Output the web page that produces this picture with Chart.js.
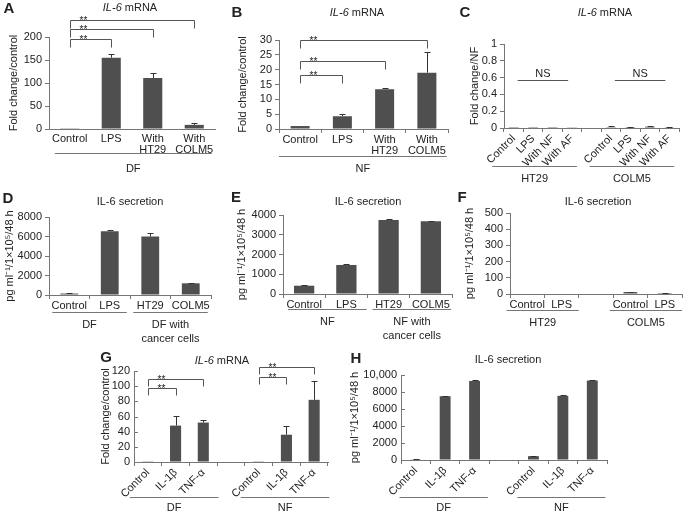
<!DOCTYPE html>
<html><head><meta charset="utf-8">
<script src="https://cdn.jsdelivr.net/npm/chart.js@4"></script>
<style>
html,body{margin:0;padding:0;background:#fff;}
#wrap{position:relative;width:685px;height:513px;background:#fff;}
#wrap canvas{position:absolute;left:0;top:0;}
</style></head><body><div id="wrap"></div>
<script>
// ---------------- DATA ----------------
const catsA = ['Control','LPS',['With','HT29'],['With','COLM5']];
const valsA = [0.5,155,111,9];
const errsA = [0,8,11,3];
const ticksA = ['0','50','100','150','200'];
const groupsA = [['DF',0,3]];
const sigA = [[0,3,237,'**'],[0,2,217,'**'],[0,1,196,'**']];

const catsB = ['Control','LPS',['With','HT29'],['With','COLM5']];
const valsB = [1,4.3,13.4,19];
const errsB = [0,0.6,0.4,7];
const ticksB = ['0','5','10','15','20','25','30'];
const groupsB = [['NF',0,3]];
const sigB = [[0,3,30,'**'],[0,2,22.9,'**'],[0,1,18.2,'**']];

const catsC = ['Control','LPS','With NF','With AF','','Control','LPS','With NF','With AF'];
const valsC = [0.001,0.001,0.001,0.003,null,0.01,0.01,0.015,0.008];
const errsC = [0,0,0,0,0,0.01,0.005,0.005,0.003];
const ticksC = ['0','0.2','0.4','0.6','0.8','1'];
const groupsC = [['HT29',0,3],['COLM5',5,8]];
const sigC = [[0,3,0.57,'NS'],[5,8,0.57,'NS']];

const catsD = ['Control','LPS','HT29','COLM5'];
const valsD = [150,6550,6000,1200];
const errsD = [100,80,400,60];
const ticksD = ['0','2000','4000','6000','8000'];
const groupsD = [['DF',0,1],[['DF with','cancer cells'],2,3]];

const catsE = ['Control','LPS','HT29','COLM5'];
const valsE = [420,1470,3750,3680];
const errsE = [30,30,30,25];
const ticksE = ['0','1000','2000','3000','4000'];
const groupsE = [['NF',0,1],[['NF with','cancer cells'],2,3]];

const catsF = ['Control','LPS','','Control','LPS'];
const valsF = [0,0,null,12,6];
const errsF = [0,0,0,3,2];
const ticksF = ['0','100','200','300','400','500'];
const groupsF = [['HT29',0,1],['COLM5',3,4]];

const catsG = ['Control','IL-1β','TNF-α','','Control','IL-1β','TNF-α'];
const valsG = [1,48,52,null,1,36,82];
const errsG = [0,13,4,0,0,12,25];
const ticksG = ['0','20','40','60','80','100','120'];
const groupsG = [['DF',0,2],['NF',4,6]];
const sigG = [[0,2,109,'**'],[0,1,97,'**'],[4,6,125,'**'],[4,5,112,'**']];

const catsH = ['Control','IL-1β','TNF-α','','Control','IL-1β','TNF-α'];
const valsH = [80,7500,9300,null,450,7550,9350];
const errsH = [20,40,60,0,20,40,50];
const ticksH = ['0','2000','4000','6000','8000','10,000'];
const groupsH = [['DF',0,2],['NF',4,6]];

const titleMRNA = ['IL-6',' mRNA'];
const titleSec = 'IL-6 secretion';
const yTitleFold = 'Fold change/control';
const yTitleNF = 'Fold change/NF';
const yTitleSec = 'pg ml\u207B\u00B9/1\u00D710\u2075/48 h';

// ---------------- LAYOUT / STYLE ----------------
const PANELS = [
 {letter:'A',lx:9,ly:9,title:titleMRNA,tx:130,ty:8,rect:[49,37,215,129],cats:catsA,vals:valsA,errs:errsA,yMax:200,step:50,ticks:ticksA,bar:0.46,xTicks:false,yIn:false,rot:0,xPad:4,groups:groupsA,gExt:[0.36,0.42],gOff:24,gLab:15,sig:sigA,drop:8,yTitle:yTitleFold,ytOff:35},
 {letter:'B',lx:237,ly:13,title:titleMRNA,tx:357,ty:13,rect:[279,40,448,129],cats:catsB,vals:valsB,errs:errsB,yMax:30,step:5,ticks:ticksB,bar:0.45,xTicks:true,yIn:false,rot:0,xPad:1,groups:groupsB,gExt:[0.5,0.47],gOff:27,gLab:12,sig:sigB,drop:8,yTitle:yTitleFold,ytOff:36},
 {letter:'C',lx:465,ly:13,title:titleMRNA,tx:605,ty:13,rect:[504,44,679,128],cats:catsC,vals:valsC,errs:errsC,yMax:1,step:0.2,ticks:ticksC,bar:0.5,xTicks:true,yIn:false,rot:45,xPad:1,groups:groupsC,gExt:[1.1,0.25],gOff:38,gLab:12,sig:sigC,drop:0,yTitle:yTitleNF,ytOff:29},
 {letter:'D',lx:8,ly:199,title:titleSec,tx:130,ty:202,rect:[49,217,211,295],cats:catsD,vals:valsD,errs:errsD,yMax:8000,step:2000,ticks:ticksD,bar:0.44,xTicks:true,yIn:false,rot:0,xPad:1,groups:groupsD,gExt:[0.42,0.42],gOff:17,gLab:12,sig:[],drop:0,yTitle:yTitleSec,ytOff:39},
 {letter:'E',lx:236,ly:198,title:titleSec,tx:368,ty:202,rect:[283,215,452,294],cats:catsE,vals:valsE,errs:errsE,yMax:4000,step:1000,ticks:ticksE,bar:0.48,xTicks:true,yIn:false,rot:0,xPad:1,groups:groupsE,gExt:[0.38,0.48],gOff:15,gLab:12,sig:[],drop:0,yTitle:yTitleSec,ytOff:41},
 {letter:'F',lx:462,ly:198,title:titleSec,tx:598,ty:202,rect:[510,213,682,294],cats:catsF,vals:valsF,errs:errsF,yMax:500,step:100,ticks:ticksF,bar:0.4,xTicks:true,yIn:false,rot:0,xPad:1,groups:groupsF,gExt:[0.6,0.5],gOff:16,gLab:12,sig:[],drop:0,yTitle:yTitleSec,ytOff:40},
 {letter:'G',lx:106,ly:358,title:titleMRNA,tx:222,ty:361,rect:[134,371,328,462],cats:catsG,vals:valsG,errs:errsG,yMax:120,step:20,ticks:ticksG,bar:0.4,xTicks:true,yIn:true,rot:45,xPad:1,groups:groupsG,gExt:[0.65,0.55],gOff:35,gLab:10,sig:sigG,drop:7,yTitle:yTitleFold,ytOff:28},
 {letter:'H',lx:356,ly:359,title:titleSec,tx:508,ty:360,rect:[401,375,607,460],cats:catsH,vals:valsH,errs:errsH,yMax:10000,step:2000,ticks:ticksH,bar:0.37,xTicks:true,yIn:true,rot:45,xPad:1,groups:groupsH,gExt:[0.55,0.45],gOff:37,gLab:10,sig:[],drop:0,yTitle:yTitleSec,ytOff:46}
];

const FONT = 'Arial, "Liberation Sans", Helvetica, sans-serif';
const AX = '#767676', BAR = '#4f4f4f', TXT = '#222';
Chart.defaults.font.family = FONT;
Chart.defaults.font.size = 11;
Chart.defaults.color = TXT;

const annot = {
  id:'annot',
  afterDraw(chart, args, opts) {
    const p = PANELS[opts.idx];
    const ctx = chart.ctx, xs = chart.scales.x, ys = chart.scales.y, ca = chart.chartArea;
    const x0 = xs.getPixelForValue(0), cw = xs.getPixelForValue(1) - x0;
    const px = i => x0 + i * cw;
    ctx.save();
    ctx.lineWidth = 1;
    // inward y ticks
    if (p.yIn) {
      ctx.strokeStyle = AX;
      ys.ticks.forEach(t => {
        const y = Math.round(ys.getPixelForValue(t.value)) + 0.5;
        ctx.beginPath(); ctx.moveTo(ca.left, y); ctx.lineTo(ca.left + 4, y); ctx.stroke();
      });
    }
    // error bars
    const meta = chart.getDatasetMeta(0);
    ctx.strokeStyle = '#333';
    p.vals.forEach((v, i) => {
      const e = p.errs[i];
      if (v == null || !e) return;
      const x = Math.round(meta.data[i].x) + 0.5;
      const yb = ys.getPixelForValue(v), yt = Math.round(ys.getPixelForValue(v + e)) + 0.5;
      ctx.beginPath();
      ctx.moveTo(x, yb); ctx.lineTo(x, yt);
      ctx.moveTo(x - 3, yt); ctx.lineTo(x + 3, yt);
      ctx.stroke();
    });
    // significance marks
    ctx.strokeStyle = '#555';
    p.sig.forEach(s => {
      const [a, b, v, lab] = s;
      const y = Math.round(ys.getPixelForValue(v)) + 0.5;
      ctx.fillStyle = TXT;
      if (lab === 'NS') {
        const xa = px(a + 0.2), xb = px(b - 0.2);
        ctx.beginPath(); ctx.moveTo(xa, y); ctx.lineTo(xb, y); ctx.stroke();
        ctx.font = '11px ' + FONT; ctx.textAlign = 'center'; ctx.textBaseline = 'alphabetic';
        ctx.fillText(lab, (xa + xb) / 2, y - 4);
      } else {
        const xa = Math.round(px(a)) + 0.5, xb = Math.round(px(b)) + 0.5;
        ctx.beginPath();
        ctx.moveTo(xa, y + p.drop); ctx.lineTo(xa, y); ctx.lineTo(xb, y); ctx.lineTo(xb, y + p.drop);
        ctx.stroke();
        ctx.font = '10px ' + FONT; ctx.textAlign = 'center'; ctx.textBaseline = 'alphabetic';
        ctx.fillText(lab, xa + 13, y + 3);
      }
    });
    // group lines and labels
    ctx.strokeStyle = AX;
    p.groups.forEach(g => {
      const [lab, a, b] = g;
      const xa = px(a - p.gExt[0]), xb = px(b + p.gExt[1]);
      const y = Math.round(ca.bottom + p.gOff) + 0.5;
      ctx.beginPath(); ctx.moveTo(xa, y); ctx.lineTo(xb, y); ctx.stroke();
      ctx.fillStyle = TXT; ctx.font = '11px ' + FONT; ctx.textAlign = 'center'; ctx.textBaseline = 'middle';
      const lines = Array.isArray(lab) ? lab : [lab];
      lines.forEach((t, k) => ctx.fillText(t, (xa + xb) / 2, y + p.gLab + k * 14));
    });
    // panel title
    ctx.fillStyle = TXT; ctx.textBaseline = 'middle';
    if (Array.isArray(p.title)) {
      ctx.font = 'italic 11px ' + FONT;
      const w1 = ctx.measureText(p.title[0]).width;
      ctx.font = '11px ' + FONT;
      const w2 = ctx.measureText(p.title[1]).width;
      const sx = p.tx - (w1 + w2) / 2;
      ctx.textAlign = 'left';
      ctx.font = 'italic 11px ' + FONT; ctx.fillText(p.title[0], sx, p.ty);
      ctx.font = '11px ' + FONT; ctx.fillText(p.title[1], sx + w1, p.ty);
    } else {
      ctx.font = '11px ' + FONT; ctx.textAlign = 'center';
      ctx.fillText(p.title, p.tx, p.ty);
    }
    // panel letter
    ctx.font = 'bold 15px ' + FONT; ctx.textAlign = 'center'; ctx.textBaseline = 'middle';
    ctx.fillText(p.letter, p.lx, p.ly);
    // y axis title
    ctx.save();
    ctx.translate(ca.left - p.ytOff, (ca.top + ca.bottom) / 2);
    ctx.rotate(-Math.PI / 2);
    ctx.font = '11px ' + FONT; ctx.textAlign = 'center'; ctx.textBaseline = 'middle';
    ctx.fillText(p.yTitle, 0, 0);
    ctx.restore();
    ctx.restore();
  }
};

PANELS.forEach((p, idx) => {
  const cv = document.createElement('canvas');
  cv.width = 685; cv.height = 513;
  document.getElementById('wrap').appendChild(cv);
  const [L, T, R, B] = p.rect;
  const YW = 45, XH = 45;
  new Chart(cv, {
    type: 'bar',
    data: { labels: p.cats, datasets: [{ data: p.vals, backgroundColor: BAR, borderWidth: 0, barPercentage: p.bar, categoryPercentage: 1 }] },
    options: {
      responsive: false, animation: false, events: [],
      layout: { padding: { left: L - YW, top: T, right: 685 - R, bottom: 513 - B - XH } },
      plugins: { legend: { display: false }, tooltip: { enabled: false }, annot: { idx: idx } },
      scales: {
        x: {
          type: 'category', offset: true,
          grid: { display: true, drawOnChartArea: false, drawTicks: p.xTicks, tickLength: 4, color: AX, offset: true },
          border: { display: true, color: AX, width: 1 },
          ticks: { autoSkip: false, maxRotation: p.rot, minRotation: p.rot, padding: p.xPad, font: { size: 11, lineHeight: 1.0 }, color: TXT },
          afterFit: s => { s.height = XH; }
        },
        y: {
          min: 0, max: p.yMax,
          grid: { drawOnChartArea: false, drawTicks: !p.yIn, tickLength: 4, color: AX },
          border: { display: true, color: AX, width: 1 },
          ticks: { stepSize: p.step, autoSkip: false, padding: p.yIn ? 4 : 3, color: TXT, callback: (v, i) => p.ticks[i] },
          afterFit: s => { s.width = YW; }
        }
      }
    },
    plugins: [annot]
  });
});
</script>
</body></html>
